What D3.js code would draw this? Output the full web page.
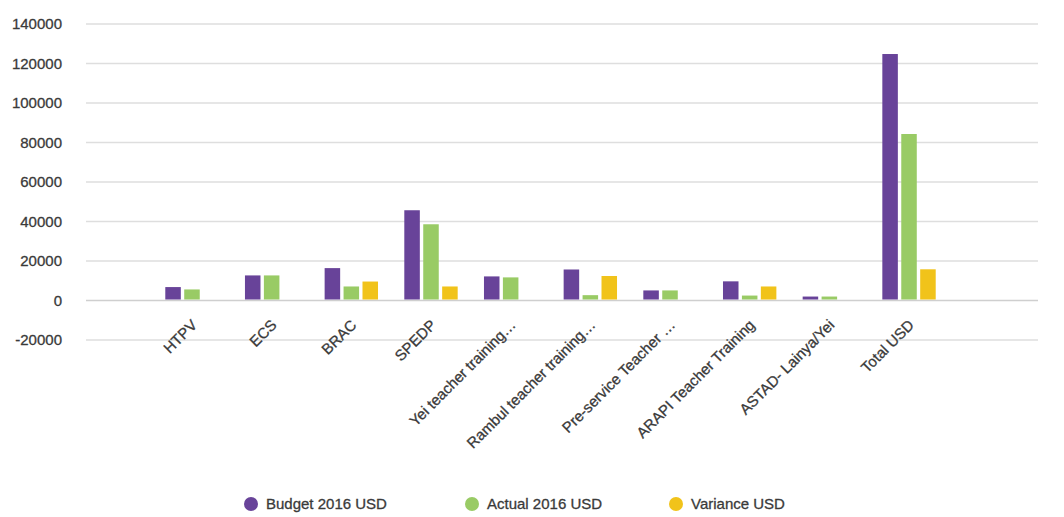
<!DOCTYPE html>
<html>
<head>
<meta charset="utf-8">
<script src="https://cdn.jsdelivr.net/npm/d3@7"></script>
<style>
  body { margin: 0; background: #fff; }
  text { font-family: "Liberation Sans", Arial, Helvetica, sans-serif; }
</style>
</head>
<body>
<svg class="chart" width="1064" height="517"></svg>
<script>
// data
const categories = ['HTPV', 'ECS', 'BRAC', 'SPEDP', 'Yei teacher training…', 'Rambul teacher training…',
    'Pre-service Teacher …', 'ARAPI Teacher Training', 'ASTAD- Lainya/Yei', 'Total USD'];
const budget = [6800, 12700, 16400, 45700, 12200, 15700, 5100, 9700, 2000, 124800];
const actual = [5600, 12700, 7100, 38600, 11700, 2700, 5100, 2500, 2000, 84300];
const variance = [0, 0, 9600, 7100, 0, 12400, 0, 7100, 0, 15800];
const seriesNames = ['Budget 2016 USD', 'Actual 2016 USD', 'Variance USD'];
const yTicks = [-20000, 0, 20000, 40000, 60000, 80000, 100000, 120000, 140000];

const colors = ['#684399', '#99cb65', '#f1c31a'];
const seriesValues = [budget, actual, variance];

const svg = d3.select('.chart');

const plotLeft = 86;
const plotRight = 1038;

const y = d3.scaleLinear()
    .domain([-20000, 140000])
    .range([340, 24]);

const x = d3.scaleBand()
    .domain(categories)
    .range([139, 962])
    .padding(0.33);

const xInner = d3.scaleBand()
    .domain(d3.range(3))
    .range([0, x.bandwidth()])
    .paddingInner(0.18);

// gridlines
svg.append('g')
    .selectAll('line')
    .data(yTicks)
    .enter().append('line')
    .attr('x1', plotLeft)
    .attr('x2', plotRight)
    .attr('y1', d => y(d))
    .attr('y2', d => y(d))
    .attr('stroke', d => d === 0 ? '#cfcfcf' : '#dedede')
    .attr('stroke-width', 1.5);

// y labels
svg.append('g')
    .selectAll('text')
    .data(yTicks)
    .enter().append('text')
    .attr('x', 62)
    .attr('y', d => y(d))
    .attr('dy', '0.35em')
    .attr('text-anchor', 'end')
    .attr('font-size', '15px')
    .attr('fill', '#3a3a3a')
    .attr('stroke', '#3a3a3a')
    .attr('stroke-width', 0.3)
    .text(d => d);

// bars
const groups = svg.append('g')
    .selectAll('g')
    .data(categories)
    .enter().append('g')
    .attr('transform', d => 'translate(' + x(d) + ',0)');

groups.selectAll('rect')
    .data((d, i) => seriesValues.map((s, j) => ({ s: j, v: s[i] })).filter(b => b.v > 0))
    .enter().append('rect')
    .attr('x', b => xInner(b.s))
    .attr('width', xInner.bandwidth())
    .attr('y', b => y(b.v))
    .attr('height', b => y(0) - y(b.v) - 1)
    .attr('fill', b => colors[b.s]);

// x labels
svg.append('g')
    .selectAll('text')
    .data(categories)
    .enter().append('text')
    .attr('transform', d => 'translate(' + (x(d) + x.bandwidth() / 2 + 6) + ',326) rotate(-45)')
    .attr('text-anchor', 'end')
    .attr('font-size', '15px')
    .attr('fill', '#3a3a3a')
    .attr('stroke', '#3a3a3a')
    .attr('stroke-width', 0.3)
    .text(d => d);

// legend
const legendX = [251, 472, 676];
const legend = svg.append('g')
    .selectAll('g')
    .data(seriesNames)
    .enter().append('g')
    .attr('transform', (d, i) => 'translate(' + legendX[i] + ',504)');

legend.append('circle')
    .attr('r', 7)
    .attr('fill', (d, i) => colors[i]);

legend.append('text')
    .attr('x', 15)
    .attr('dy', '0.35em')
    .attr('font-size', '15px')
    .attr('fill', '#3a3a3a')
    .attr('stroke', '#3a3a3a')
    .attr('stroke-width', 0.3)
    .text(d => d);
</script>
</body>
</html>
